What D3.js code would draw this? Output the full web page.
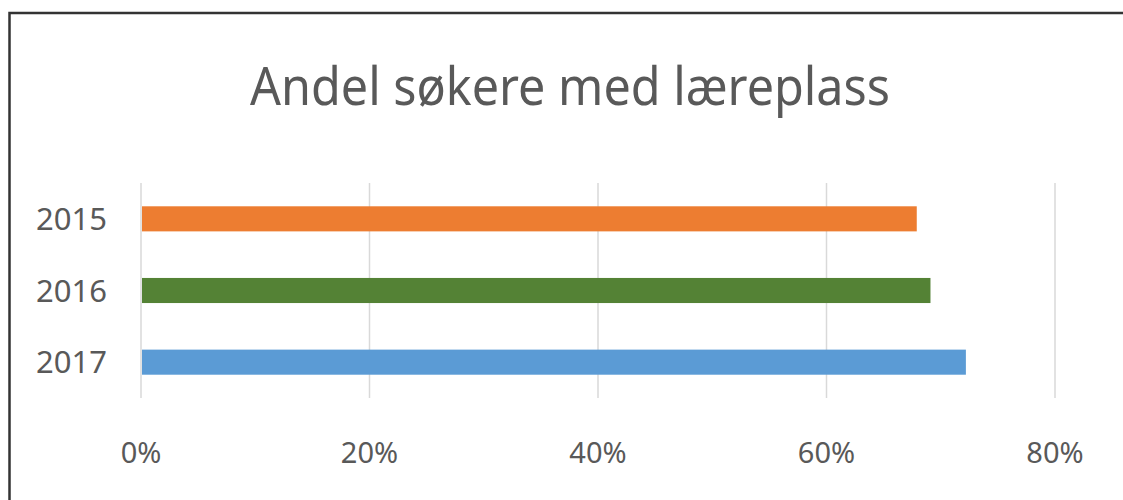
<!DOCTYPE html>
<html>
<head>
<meta charset="utf-8">
<script src="https://cdn.jsdelivr.net/npm/d3@7"></script>
<style>
	html, body { margin: 0; background: #fff; overflow: hidden; }
	svg { display: block; }
	text { font-family: "Noto Sans", "Open Sans", sans-serif; fill: #595959; }
</style>
</head>
<body>
<svg id="chart" width="1123" height="500"></svg>
<script>
// data
const years = ['2015', '2016', '2017']
const shares = [0.679, 0.691, 0.722]
const colors = ['#ED7D31', '#548235', '#5B9BD5']
const xTicks = [0, 0.2, 0.4, 0.6, 0.8]
const title = 'Andel søkere med læreplass'

const svg = d3.select('#chart')

// outer frame: only top and left edges are visible in the screenshot
svg.append('path')
	.attr('d', 'M9.5,500V13H1123')
	.attr('fill', 'none')
	.attr('stroke', '#333')
	.attr('stroke-width', 2.5)

svg.append('text')
	.attr('x', 570)
	.attr('y', 105)
	.attr('text-anchor', 'middle')
	.attr('font-size', 52)
	.attr('textLength', 640)
	.attr('lengthAdjust', 'spacingAndGlyphs')
	.text(title)

const plot = { left: 141, right: 1055, top: 183, bottom: 398 }

const x = d3.scaleLinear()
	.domain([0, 0.8])
	.range([plot.left, plot.right])

const y = d3.scaleBand()
	.domain(years)
	.range([plot.top, plot.bottom])
	.paddingInner(0.65)
	.paddingOuter(0.325)

// vertical gridlines
svg.append('g')
	.selectAll('line')
	.data(xTicks)
	.join('line')
	.attr('x1', d => x(d))
	.attr('x2', d => x(d))
	.attr('y1', plot.top)
	.attr('y2', plot.bottom)
	.attr('stroke', '#d9d9d9')
	.attr('stroke-width', 1.5)

// bars
svg.append('g')
	.selectAll('rect')
	.data(years)
	.join('rect')
	.attr('x', x(0) + 1)
	.attr('y', d => y(d))
	.attr('width', (d, i) => x(shares[i]) - x(0) - 1)
	.attr('height', y.bandwidth())
	.attr('fill', (d, i) => colors[i])

// category labels
svg.append('g')
	.selectAll('text')
	.data(years)
	.join('text')
	.attr('x', 107)
	.attr('y', d => y(d) + y.bandwidth() / 2)
	.attr('dy', '0.36em')
	.attr('text-anchor', 'end')
	.attr('font-size', 31)
	.text(d => d)

// x tick labels
const pct = d3.format('.0%')
svg.append('g')
	.selectAll('text')
	.data(xTicks)
	.join('text')
	.attr('x', d => x(d))
	.attr('y', 463)
	.attr('text-anchor', 'middle')
	.attr('font-size', 29)
	.text(d => pct(d))
</script>
</body>
</html>
